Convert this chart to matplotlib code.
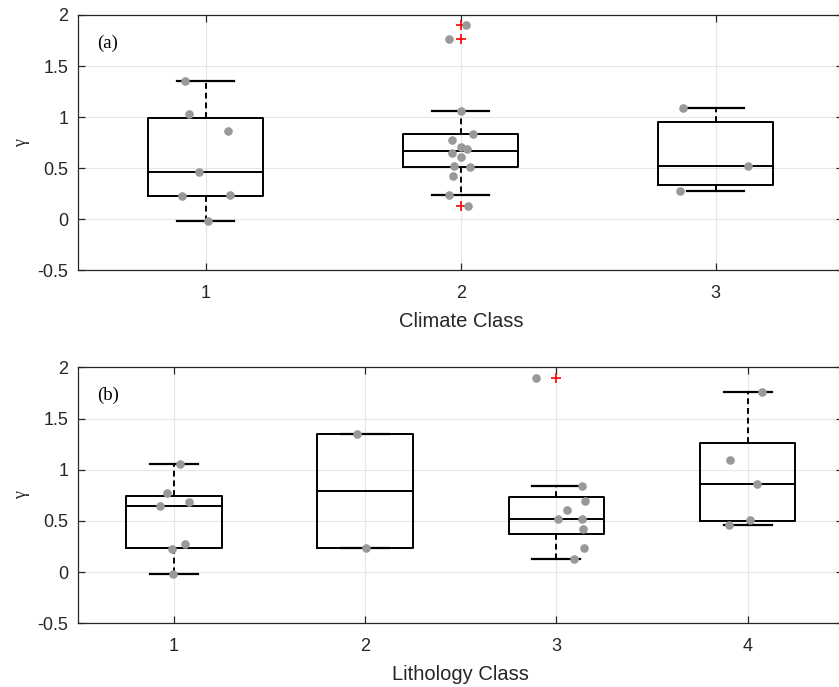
import numpy as np
import matplotlib
matplotlib.use("Agg")
import matplotlib.pyplot as plt

# gamma values per climate class
climate_labels = ["1", "2", "3"]
climate_c1 = [1.35, 1.035, 0.86, 0.46, 0.23, 0.24, -0.015]
climate_c2 = [1.898, 1.761, 0.133, 1.060, 0.838, 0.773, 0.707, 0.691, 0.649, 0.610, 0.524, 0.512, 0.424, 0.241]
climate_c3 = [1.092, 0.522, 0.274]

# horizontal scatter offsets of the individual points (same order as values)
climate_j1 = [-0.080, -0.067, 0.088, -0.026, -0.092, 0.095, 0.008]
climate_j2 = [0.020, -0.046, 0.030, 0.000, 0.048, -0.034, 0.000, 0.025, -0.035, 0.000, -0.026, 0.035, -0.030, -0.048]
climate_j3 = [-0.129, 0.128, -0.142]

# gamma values per lithology class
litho_labels = ["1", "2", "3", "4"]
litho_c1 = [1.054, 0.768, 0.647, 0.686, 0.273, 0.221, -0.020]
litho_c2 = [1.346, 0.234]
litho_c3 = [1.896, 0.839, 0.693, 0.605, 0.517, 0.520, 0.420, 0.231, 0.130]
litho_c4 = [1.763, 1.093, 0.862, 0.507, 0.459]

litho_j1 = [0.033, -0.035, -0.075, 0.077, 0.056, -0.009, -0.003]
litho_j2 = [-0.042, 0.007]
litho_j3 = [-0.108, 0.136, 0.147, 0.054, 0.007, 0.133, 0.140, 0.145, 0.091]
litho_j4 = [0.075, -0.094, 0.051, 0.013, -0.100]

y_ticks = [-0.5, 0, 0.5, 1, 1.5, 2]
y_ticklabels = ["-0.5", "0", "0.5", "1", "1.5", "2"]

plt.rcParams["font.family"] = ["Liberation Sans", "DejaVu Sans"]


def box_stats(values, whis=1.0):
    v = np.sort(np.asarray(values, dtype=float))
    q1, med, q3 = np.percentile(v, [25, 50, 75], method="hazen")
    iqr = q3 - q1
    lo_f, hi_f = q1 - whis * iqr, q3 + whis * iqr
    inside = v[(v >= lo_f) & (v <= hi_f)]
    return dict(med=med, q1=q1, q3=q3,
                whislo=inside.min(), whishi=inside.max(),
                fliers=v[(v < lo_f) | (v > hi_f)])


def panel(ax, groups, jitters, labels, width, capw, xlabel, tag):
    pos = np.arange(1, len(groups) + 1)
    stats = [box_stats(g) for g in groups]
    ax.bxp(stats, positions=pos, widths=width, capwidths=capw,
           showfliers=True, patch_artist=False,
           boxprops=dict(color="black", linewidth=1.4),
           medianprops=dict(color="black", linewidth=1.4),
           whiskerprops=dict(color="black", linewidth=1.4, linestyle=(0, (3, 2))),
           capprops=dict(color="black", linewidth=1.6),
           flierprops=dict(marker="+", markeredgecolor="red", markersize=7,
                           markeredgewidth=1.2, linestyle="none"),
           zorder=3)
    for p, g, j in zip(pos, groups, jitters):
        ax.plot(p + np.asarray(j), g, "o", color="#999999", markersize=6.2,
                markeredgewidth=0, zorder=4)
    ax.set_xlim(0.5, len(groups) + 0.5)
    ax.set_ylim(-0.5, 2)
    ax.set_xticks(pos)
    ax.set_xticklabels(labels)
    ax.set_yticks(y_ticks)
    ax.set_yticklabels(y_ticklabels)
    ax.grid(True, color="#e6e6e6", linewidth=0.8, zorder=0)
    ax.set_axisbelow(True)
    ax.tick_params(direction="in", length=5, width=0.9, color="#262626",
                   labelsize=13, labelcolor="#262626", top=True, right=True)
    ax.tick_params(axis="y", pad=7)
    ax.tick_params(axis="x", pad=10.5)
    for s in ax.spines.values():
        s.set_color("#262626")
        s.set_linewidth(0.9)
    ax.set_xlabel(xlabel, fontsize=14.5, color="#262626", labelpad=7)
    ax.set_ylabel("γ", fontsize=13, family=["Liberation Serif", "DejaVu Serif"],
                  color="#262626")
    ax.yaxis.set_label_coords(-0.063, 0.5)
    ax.text(0.024, 0.89, tag, transform=ax.transAxes, fontsize=13.5,
            family=["Liberation Serif", "DejaVu Serif"], va="center", ha="left")


fig = plt.figure(figsize=(8.39, 6.87), dpi=100)
ax1 = fig.add_axes([0.0933, 0.6064, 0.9118, 0.3718])
ax2 = fig.add_axes([0.0933, 0.0927, 0.9118, 0.3726])

panel(ax1, [climate_c1, climate_c2, climate_c3],
      [climate_j1, climate_j2, climate_j3], climate_labels,
      0.45, 0.225, "Climate Class", "(a)")
panel(ax2, [litho_c1, litho_c2, litho_c3, litho_c4],
      [litho_j1, litho_j2, litho_j3, litho_j4], litho_labels,
      0.5, 0.25, "Lithology Class", "(b)")

fig.savefig("out.png", dpi=100)
